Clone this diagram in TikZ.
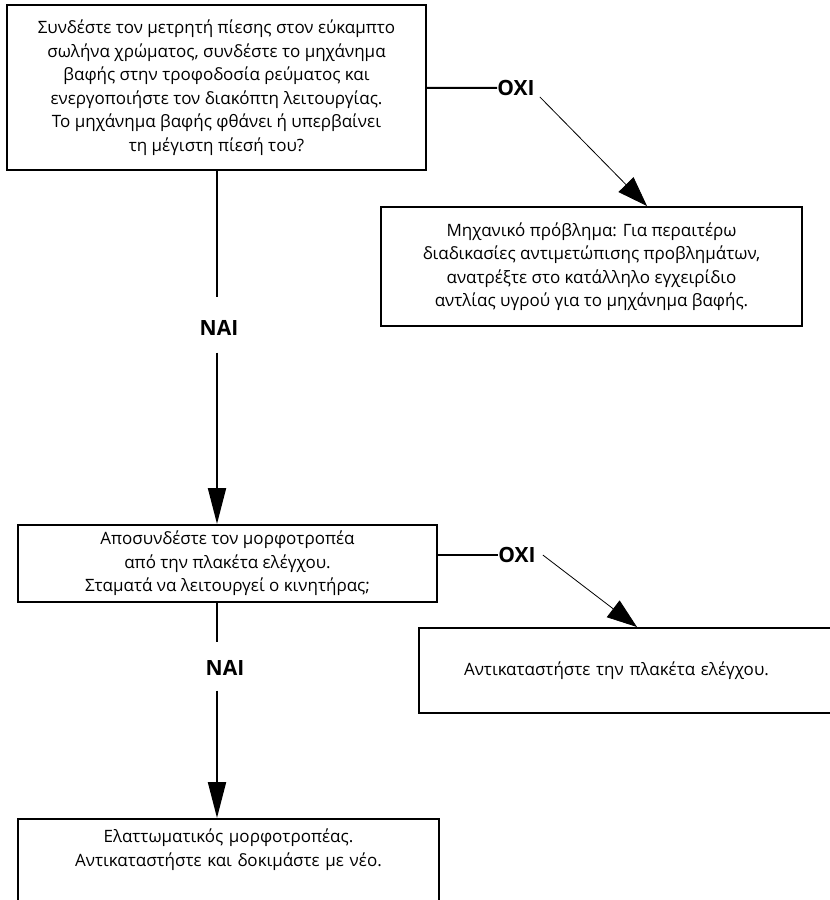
\documentclass[tikz,border=0pt]{standalone}
\usepackage{fontspec}
\setmainfont{Open Sans}
\usetikzlibrary{positioning, arrows.meta}

\begin{document}
\begin{tikzpicture}[x=1pt, y=-1pt,
  box/.style={draw, line width=2pt, align=center, inner sep=0pt, font=\fontsize{17}{23.5}\selectfont},
  answer/.style={inner sep=0pt, font=\fontsize{21}{21}\selectfont\bfseries},
  wire/.style={line width=2pt},
  down/.style={wire, -{Triangle[length=36pt, width=18pt]}},
  side/.style={line width=0.8pt, -{Triangle[length=30pt, width=21pt]}}]
\clip (0,0) rectangle (830,900);
\node (check) [box, minimum width=419pt, minimum height=165pt] at (216.5,87.5) {Συνδέστε τον μετρητή πίεσης στον εύκαμπτο\\ σωλήνα χρώματος, συνδέστε το μηχάνημα\\ βαφής στην τροφοδοσία ρεύματος και\\ ενεργοποιήστε τον διακόπτη λειτουργίας.\\ Το μηχάνημα βαφής φθάνει ή υπερβαίνει\\ τη μέγιστη πίεσή του?};
\node (pump) [box, minimum width=421pt, minimum height=119pt] at (591.5,266.5) {Μηχανικό πρόβλημα: Για περαιτέρω\\ διαδικασίες αντιμετώπισης προβλημάτων,\\ ανατρέξτε στο κατάλληλο εγχειρίδιο\\ αντλίας υγρού για το μηχάνημα βαφής.};
\node (unplug) [box, minimum width=419pt, minimum height=77pt] at (227.5,563.5) {Αποσυνδέστε τον μορφοτροπέα\\ από την πλακέτα ελέγχου.\\ Σταματά να λειτουργεί ο κινητήρας;};
\node (board) [box, anchor=west, align=left, text width=370pt, inner xsep=45pt, minimum height=85pt] at (418,670.5) {Αντικαταστήστε την πλακέτα ελέγχου.};
\node (sensor) [box, anchor=north, text width=401pt, inner xsep=10pt, inner ysep=10pt, text depth=80pt] at (228.5,818) {Ελαττωματικός μορφοτροπέας.\\ Αντικαταστήστε και δοκιμάστε με νέο.};
\node (no1) [answer] at (516,88) {ΟΧΙ};
\node (no2) [answer] at (517,555) {ΟΧΙ};
\node (yes1) [answer] at (219,328) {ΝΑΙ};
\node (yes2) [answer] at (225,668) {ΝΑΙ};
\coordinate (trunk) at (217,0);
\draw[wire] (check) -- (no1);
\draw[side] ([shift={(5,1)}]no1.south east) -- ([xshift=55.5pt]pump.north);
\draw[wire, shorten >=23pt] (trunk |- check.south) -- (trunk |- yes1.north);
\draw[down, shorten <=17pt] (trunk |- yes1.south) -- (trunk |- unplug.north);
\draw[wire] (unplug.east |- no2) -- (no2);
\draw[side] ([xshift=7pt]no2.east) -- ([xshift=219pt]board.north west);
\draw[wire, shorten >=18pt] (trunk |- unplug.south) -- (trunk |- yes2.north);
\draw[down, shorten <=15pt] (trunk |- yes2.south) -- (trunk |- sensor.north);
\end{tikzpicture}
\end{document}
